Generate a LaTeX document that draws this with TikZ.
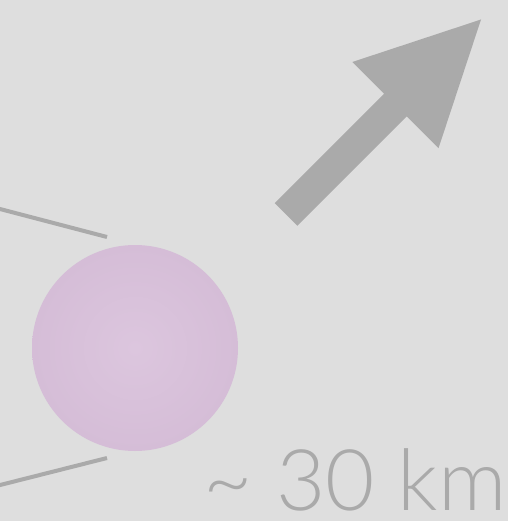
\documentclass[tikz,border=0pt]{standalone}
\usepackage{fontspec}
\setmainfont{Liberation Sans}
\newfontfamily\labelfont{Lato}[UprightFont={* Light}]
\usetikzlibrary{calc}
\definecolor{bggray}{RGB}{222,222,222}
\definecolor{markgray}{RGB}{170,170,170}
\definecolor{pinkin}{RGB}{220,198,222}
\definecolor{pinkout}{RGB}{206,180,208}
\pgfdeclareradialshading{starshade}{\pgfpoint{0bp}{0bp}}{color(0bp)=(pinkin); color(50bp)=(pinkout)}
\tikzset{every picture/.style={line width=0.75pt}}

\begin{document}
\begin{tikzpicture}[x=0.05cm,y=-0.05cm]
    % 背景
    \fill[bggray] (0,0) rectangle (508,521);
    \useasboundingbox (0,0) rectangle (508,521);
    % 星体
    \coordinate (star) at (135,348);
    \shade[shading=starshade] (star) circle (103);
    % 两条线
    \coordinate (topin) at (-5,207.7);
    \coordinate (topend) at (107,237);
    \coordinate (botin) at (-5,486.3);
    \coordinate (botend) at (107,458);
    \draw[markgray,line width=0.2cm] (topin) -- (topend);
    \draw[markgray,line width=0.2cm] (botin) -- (botend);
    % 大箭头
    \fill[markgray] (274.7,203.2) -- (384.1,93.8) -- (352.3,62) -- (481,19.5)
        -- (438.5,148.2) -- (406.7,116.4) -- (297.3,225.8) -- cycle;
    % 标注
    \node[markgray,anchor=base east,inner sep=0pt,font=\labelfont\fontsize{121}{130}\selectfont]
        (size) at (507,510) {\textasciitilde{} 30 km};
\end{tikzpicture}
\end{document}
